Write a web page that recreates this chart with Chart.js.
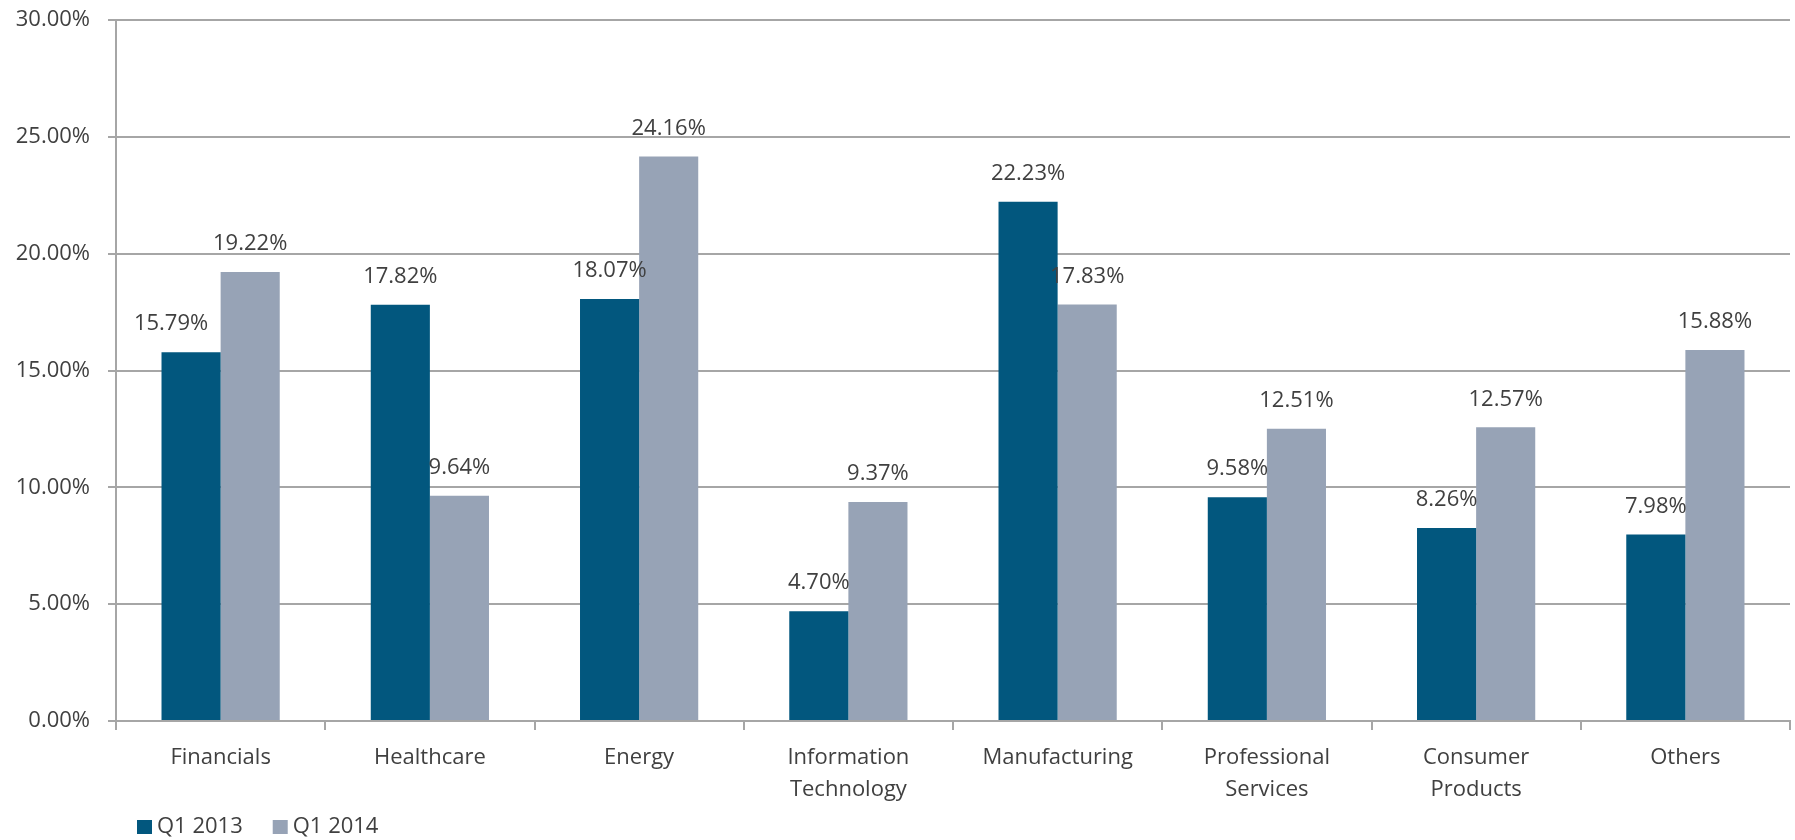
<!DOCTYPE html>
<html>
<head>
<meta charset="utf-8">
<title>Q1 2013 vs Q1 2014</title>
<script src="https://cdn.jsdelivr.net/npm/chart.js@4.4.0/dist/chart.umd.min.js"></script>
<style>
	html, body { margin: 0; padding: 0; background: #fff; }
	#wrap { width: 1795px; height: 840px; }
</style>
</head>
<body>
<div id="wrap"><canvas id="mycanvas" width="1795" height="840"></canvas></div>
<script>
var sectors = ["Financials", "Healthcare", "Energy", ["Information", "Technology"], "Manufacturing", ["Professional", "Services"], ["Consumer", "Products"], "Others"];
var q1_2013 = [15.79, 17.82, 18.07, 4.70, 22.23, 9.58, 8.26, 7.98];
var q1_2014 = [19.22, 9.64, 24.16, 9.37, 17.83, 12.51, 12.57, 15.88];
var yTicks = [0, 5, 10, 15, 20, 25, 30];

var textColor = '#404040';
var gridColor = '#a6a6a6';
var fontFamily = '"Open Sans", sans-serif';

// value labels above each bar
var barLabels = {
	id: 'barLabels',
	afterDatasetsDraw: function(chart) {
		var ctx = chart.ctx;
		// the first Financials label sits a bit to the left in the original
		var nudge = { '0-0': -20 };
		ctx.save();
		ctx.font = '22px ' + fontFamily;
		ctx.fillStyle = textColor;
		ctx.textAlign = 'center';
		ctx.textBaseline = 'middle';
		chart.data.datasets.forEach(function(ds, i) {
			var meta = chart.getDatasetMeta(i);
			meta.data.forEach(function(bar, j) {
				var dx = nudge[i + '-' + j] || 0;
				ctx.fillText(ds.data[j].toFixed(2) + '%', bar.x + dx, bar.y - 28);
			});
		});
		ctx.restore();
	}
};

// legend in the bottom left corner
var cornerLegend = {
	id: 'cornerLegend',
	afterDraw: function(chart) {
		var ctx = chart.ctx;
		var x = 137;
		var y = 827;
		ctx.save();
		ctx.font = '22px ' + fontFamily;
		ctx.textBaseline = 'middle';
		chart.data.datasets.forEach(function(ds) {
			ctx.fillStyle = ds.backgroundColor;
			ctx.fillRect(x, y - 7, 15, 14);
			ctx.fillStyle = textColor;
			ctx.fillText(ds.label, x + 20, y);
			x += 20 + ctx.measureText(ds.label).width + 30;
		});
		ctx.restore();
	}
};

var chartdata = {
	labels: sectors,
	datasets: [
		{
			label: 'Q1 2013',
			backgroundColor: '#02577e',
			data: q1_2013
		},
		{
			label: 'Q1 2014',
			backgroundColor: '#97a3b6',
			data: q1_2014
		}
	]
};

var ctx = document.getElementById('mycanvas');

var barGraph = new Chart(ctx, {
	type: 'bar',
	data: chartdata,
	plugins: [barLabels, cornerLegend],
	options: {
		responsive: false,
		animation: false,
		layout: { padding: { top: 16, right: 5, left: 0, bottom: 0 } },
		datasets: {
			bar: { barPercentage: 1, categoryPercentage: 0.565 }
		},
		plugins: {
			legend: { display: false },
			tooltip: { enabled: false }
		},
		scales: {
			x: {
				afterFit: function(scale) { scale.height = 119; },
				grid: {
					offset: true,
					drawOnChartArea: false,
					drawTicks: true,
					tickLength: 9,
					color: gridColor,
					lineWidth: 2
				},
				border: { display: true, color: gridColor, width: 2 },
				ticks: {
					color: textColor,
					padding: 12,
					maxRotation: 0,
					autoSkip: false,
					font: { family: fontFamily, size: 22, lineHeight: 1.45 }
				}
			},
			y: {
				min: 0,
				max: 30,
				afterFit: function(scale) { scale.width = 116; },
				afterBuildTicks: function(scale) {
					scale.ticks = yTicks.map(function(v) { return { value: v }; });
				},
				grid: {
					color: gridColor,
					lineWidth: 2,
					drawTicks: true,
					tickLength: 8
				},
				border: { display: true, color: gridColor, width: 2 },
				ticks: {
					color: textColor,
					padding: 18,
					font: { family: fontFamily, size: 22, lineHeight: 0.2 },
					callback: function(v) { return v.toFixed(2) + '%'; }
				}
			}
		}
	}
});
</script>
</body>
</html>
